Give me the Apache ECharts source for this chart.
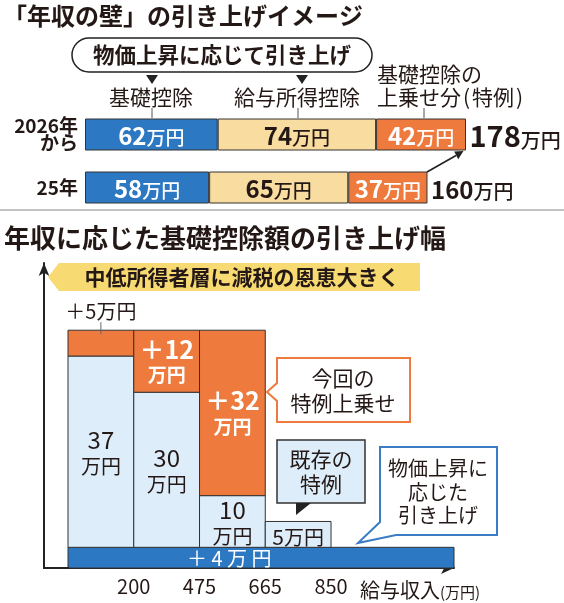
<!DOCTYPE html>
<html><head><meta charset="utf-8">
<script src="https://cdn.jsdelivr.net/npm/echarts@6/dist/echarts.min.js"></script>
<style>html,body{margin:0;padding:0;background:#fff}#c{width:564px;height:603px}</style>
</head><body><div id="c"></div>
<script>
// ---- data: top chart ----
const years = ['2026年\nから', '25年'];
const basicDeduction = [62, 58];
const salaryDeduction = [74, 65];
const specialAddition = [42, 37];
// ---- data: bottom chart ----
const incomeTicks = ['200', '475', '665', '850'];
const baseRaise = 4;
const existingSpecial = [37, 30, 10, 5];
const newSpecial = [5, 12, 32, 0];

const totals = years.map((_, i) => basicDeduction[i] + salaryDeduction[i] + specialAddition[i]);

const FONT = '"Noto Sans CJK JP","Noto Sans",sans-serif';
const INK = '#231815';
const BLUE = '#2c78c2';
const BEIGE = '#f9dda0';
const ORANGE = '#ee7b3d';
const LIGHT = '#ddeefa';
const YELLOW = '#f8da72';

function barLabel(color) {
  return {
    show: true, position: 'inside',
    formatter: p => '{n|' + p.value + '}{u|万円}',
    rich: {
      n: {fontSize: 24, fontWeight: 'bold', color, fontFamily: FONT, verticalAlign: 'bottom', lineHeight: 26},
      u: {fontSize: 19, fontWeight: 500, color, fontFamily: FONT, verticalAlign: 'bottom', lineHeight: 26}
    }
  };
}
const barCommon = {
  type: 'bar', stack: 'total', xAxisIndex: 0, yAxisIndex: 0, barWidth: 32,
  itemStyle: {borderColor: '#333', borderWidth: 1}
};

function renderBase(params, api) {
  const v = api.value(0);
  const p0 = api.coord([0, 0]);
  const p1 = api.coord([0, v]);
  const cs = params.coordSys;
  const right = cs.x + cs.width;
  return {type: 'group', children: [
    {type: 'rect', shape: {x: p0[0], y: p1[1], width: right - p0[0], height: p0[1] - p1[1]},
     style: {fill: BLUE, stroke: '#333', lineWidth: 1}},
    {type: 'text', style: {text: '＋ ' + v + ' 万 円', x: p0[0] + 119, y: (p0[1] + p1[1]) / 2 + 1,
      align: 'left', verticalAlign: 'middle', fontSize: 20, fontFamily: FONT, fill: '#fff'}}
  ]};
}

function renderColumn(params, api) {
  const i = api.value(0), s = api.value(1), n = api.value(2);
  const pB = api.coord([i, baseRaise]);
  const pS = api.coord([i + 1, baseRaise + s]);
  const pN = api.coord([i + 1, baseRaise + s + n]);
  const x = pB[0], w = pS[0] - pB[0], cx = x + w / 2;
  const sH = pB[1] - pS[1];
  const ch = [];
  ch.push({type: 'rect', shape: {x, y: pS[1], width: w, height: sH},
    style: {fill: LIGHT, stroke: '#333', lineWidth: 1}});
  const twoLine = sH > 40;
  ch.push({type: 'text', style: {
    text: twoLine ? '{n|' + s + '}\n{u|万円}' : '{m|' + s + '}{u|万円}',
    x: cx, y: pS[1] + sH / 2 + (twoLine ? 0 : 1), align: 'center', verticalAlign: 'middle',
    rich: {
      n: {fontSize: 24, fontFamily: FONT, fill: INK, lineHeight: 25, align: 'center'},
      m: {fontSize: 21, fontFamily: FONT, fill: INK, lineHeight: 24, verticalAlign: 'bottom'},
      u: {fontSize: 20, fontFamily: FONT, fill: INK, lineHeight: 24, align: 'center', verticalAlign: 'bottom'}
    }}});
  if (n > 0) {
    const nH = pS[1] - pN[1];
    ch.push({type: 'rect', shape: {x, y: pN[1], width: w, height: nH},
      style: {fill: ORANGE, stroke: '#333', lineWidth: 1}});
    if (nH > 40) {
      ch.push({type: 'text', style: {
        text: '{n|＋' + n + '}\n{u|万円}', x: cx, y: pN[1] + nH / 2, align: 'center', verticalAlign: 'middle',
        rich: {
          n: {fontSize: 25, fontWeight: 'bold', fontFamily: FONT, fill: '#fff', lineHeight: 27, align: 'center'},
          u: {fontSize: 19, fontWeight: 'bold', fontFamily: FONT, fill: '#fff', lineHeight: 24, align: 'center'}
        }}});
    } else {
      ch.push({type: 'line', shape: {x1: cx, y1: pN[1] - 8, x2: cx, y2: pN[1] + 4},
        style: {stroke: '#666', lineWidth: 1}});
      ch.push({type: 'text', style: {text: '＋' + n + '万円', x: cx, y: pN[1] - 19,
        align: 'center', verticalAlign: 'middle', fontSize: 20, fontFamily: FONT, fill: INK}});
    }
  }
  return {type: 'group', children: ch};
}

function T(x, y, text, size, weight, align, extra) {
  return Object.assign({type: 'text', x, y, z: 10, style: Object.assign({
    text, fontSize: size, fontWeight: weight || 'normal', fontFamily: FONT, fill: INK,
    align: align || 'left', verticalAlign: 'middle'}, extra || {})});
}
function L(x1, y1, x2, y2, color, width) {
  return {type: 'line', z: 10, shape: {x1, y1, x2, y2}, style: {stroke: color || INK, lineWidth: width || 1}};
}
function P(points, fill, stroke, lw) {
  return {type: 'polygon', z: 9, shape: {points}, style: {fill, stroke: stroke || null, lineWidth: lw || 0}};
}

const graphics = [
  T(3, 16, '「年収の壁」の引き上げイメージ', 24, 'bold'),
  {type: 'rect', z: 9, shape: {x: 72, y: 38, width: 300, height: 34, r: 17}, style: {fill: '#fff', stroke: '#222', lineWidth: 1.5}},
  T(222, 55, '物価上昇に応じて引き上げ', 21.5, 'bold', 'center'),
  P([[146, 75], [158, 75], [152, 84]], '#222'),
  P([[296, 75], [308, 75], [302, 84]], '#222'),
  T(151, 97, '基礎控除', 21, 'normal', 'center'),
  T(297, 97, '給与所得控除', 21, 'normal', 'center'),
  T(377, 74, '基礎控除の', 21, 'normal', 'left'),
  {type: 'text', z: 10, x: 377, y: 97, style: {text: '{a|上乗せ分}{p|(}{a|特例}{p|)}', verticalAlign: 'middle',
    rich: {a: {fontSize: 21, fontFamily: FONT, fill: INK}, p: {fontSize: 21, fontFamily: FONT, fill: INK, padding: [0, 2, 0, 2]}}}},
  L(152, 108, 152, 118, '#555'),
  L(298, 108, 298, 118, '#555'),
  L(424, 108, 424, 118, '#555'),
  L(427, 172, 456, 155.5, '#222', 1.6),
  P([[463.5, 151], [458.2, 159.2], [454.2, 151.6]], '#222'),
  L(0, 210, 564, 210, '#888', 1.2),
  T(4, 238, '年収に応じた基礎控除額の引き上げ幅', 26, 'bold'),
  P([[48, 277], [59, 263], [420, 263], [420, 291], [59, 291]], YELLOW),
  T(242, 277, '中低所得者層に減税の恩恵大きく', 21, 'bold', 'center'),
  L(43, 568, 69, 568, '#222', 2),
  // callout: 今回の特例上乗せ
  P([[277, 358], [410, 358], [410, 422], [277, 422], [277, 401], [267, 392], [277, 383]], '#fff', ORANGE, 2),
  T(343, 391, '今回の\n特例上乗せ', 21, 'normal', 'center', {lineHeight: 25}),
  // callout: 既存の特例
  {type: 'rect', z: 9, shape: {x: 277, y: 440, width: 88, height: 63}, style: {fill: LIGHT, stroke: '#333', lineWidth: 1.5}},
  P([[296, 503], [311, 503], [296, 515]], '#222'),
  T(321, 472, '既存の\n特例', 21, 'normal', 'center', {lineHeight: 25}),
  // callout: 物価上昇に応じた引き上げ
  P([[380, 447], [497, 447], [497, 535], [396, 535], [358, 543], [380, 522]], '#fff', '#3b7cc4', 2),
  T(438, 492, '物価上昇に\n応じた\n引き上げ', 20, 'normal', 'center', {lineHeight: 23.5}),
  {type: 'text', z: 10, x: 360, y: 588, style: {text: '{a|給与収入}{b|(万円)}', verticalAlign: 'middle',
    rich: {a: {fontSize: 20, fontFamily: FONT, fill: INK, verticalAlign: 'bottom', lineHeight: 24},
           b: {fontSize: 15, fontFamily: FONT, fill: INK, verticalAlign: 'bottom', lineHeight: 24}}}}
];

const chart = echarts.init(document.getElementById('c'), null, {renderer: 'canvas'});
chart.setOption({
  animation: false,
  backgroundColor: '#fff',
  textStyle: {fontFamily: FONT},
  grid: [
    {left: 85, right: 98, top: 108, height: 106},
    {left: 68, right: 110, top: 263, bottom: 35}
  ],
  xAxis: [
    {gridIndex: 0, type: 'value', min: 0, max: Math.max(...totals), show: false},
    {gridIndex: 1, type: 'value', min: 0, max: 5.87, interval: 1,
     axisLine: {show: true, onZero: false, symbol: ['none', 'arrow'], symbolSize: [9, 13], lineStyle: {color: '#222', width: 2}},
     axisTick: {show: false}, splitLine: {show: false},
     axisLabel: {formatter: v => (Number.isInteger(v) && incomeTicks[v - 1]) ? incomeTicks[v - 1] : '',
       fontSize: 20, color: INK, margin: 8, fontFamily: FONT, showMaxLabel: false}}
  ],
  yAxis: [
    {gridIndex: 0, type: 'category', data: years, inverse: true,
     axisLine: {show: false}, axisTick: {show: false},
     axisLabel: {fontSize: 19, fontWeight: 'bold', color: INK, lineHeight: 17, margin: 7, fontFamily: FONT}},
    {gridIndex: 1, type: 'value', min: 0, max: 59, offset: 24,
     axisLine: {show: true, onZero: false, symbol: ['none', 'arrow'], symbolSize: [8, 13], lineStyle: {color: '#222', width: 2}},
     axisTick: {show: false}, axisLabel: {show: false}, splitLine: {show: false}}
  ],
  graphic: graphics,
  series: [
    Object.assign({}, barCommon, {name: '基礎控除', data: basicDeduction, itemStyle: {color: BLUE, borderColor: '#333', borderWidth: 1}, label: barLabel('#fff')}),
    Object.assign({}, barCommon, {name: '給与所得控除', data: salaryDeduction, itemStyle: {color: BEIGE, borderColor: '#333', borderWidth: 1}, label: barLabel(INK)}),
    Object.assign({}, barCommon, {name: '特例', data: specialAddition, itemStyle: {color: ORANGE, borderColor: '#333', borderWidth: 1}, label: barLabel('#fff')}),
    {type: 'scatter', xAxisIndex: 0, yAxisIndex: 0, symbolSize: 1, itemStyle: {color: 'rgba(0,0,0,0)', opacity: 1},
     data: totals.map((t, i) => ({value: [t, i], label: {rich: i === 0
       ? {n: {fontSize: 29, fontWeight: 'bold', color: INK, fontFamily: FONT, verticalAlign: 'bottom', lineHeight: 32},
          u: {fontSize: 20, fontWeight: 500, color: INK, fontFamily: FONT, verticalAlign: 'bottom', lineHeight: 32}}
       : {n: {fontSize: 24, fontWeight: 'bold', color: INK, fontFamily: FONT, verticalAlign: 'bottom', lineHeight: 28},
          u: {fontSize: 20, fontWeight: 500, color: INK, fontFamily: FONT, verticalAlign: 'bottom', lineHeight: 28}}}})),
     label: {show: true, position: 'right', distance: 3, color: INK, opacity: 1, formatter: p => '{n|' + p.value[0] + '}{u|万円}'}},
    {type: 'custom', xAxisIndex: 1, yAxisIndex: 1, renderItem: renderBase, data: [[baseRaise]], z: 2},
    {type: 'custom', xAxisIndex: 1, yAxisIndex: 1, renderItem: renderColumn, z: 3,
     data: existingSpecial.map((s, i) => [i, s, newSpecial[i]])}
  ]
});
</script></body></html>
